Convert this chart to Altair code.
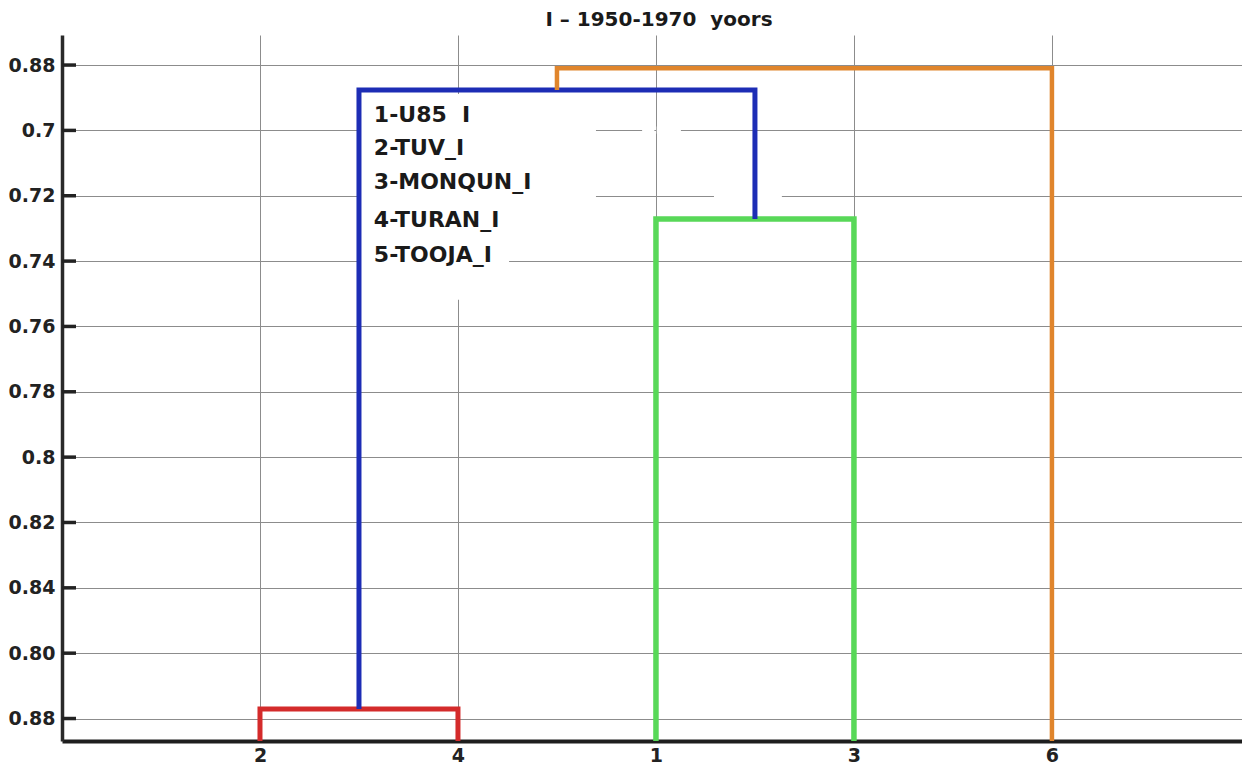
import json
import altair as alt
import pandas as pd

# ---------------- data ----------------
title_text = "I – 1950-1970 \u00a0yoors"

leaf_labels = ["2", "4", "1", "3", "6"]          # leaf order on the x axis
leaf_pos = [1, 2, 3, 4, 5]

y_tick_pos = list(range(11))                     # bottom -> top
y_tick_labels = ["0.88", "0.80", "0.84", "0.82", "0.8", "0.78",
                 "0.76", "0.74", "0.72", "0.7", "0.88"]

leaf_height = -0.344                             # leaves sit on the baseline

# dendrogram links (in y-grid units)
link_id = ["red", "green", "blue", "orange"]
link_left = [1, 3, 1.5, 2.5]
link_right = [2, 4, 3.5, 5]
link_height = [0.145, 7.645, 9.62, 9.95]
link_left_child = [leaf_height, leaf_height, 0.145, 9.62]
link_right_child = [leaf_height, leaf_height, 7.645, leaf_height]
link_color = ["#d42b2b", "#58d858", "#1d2db5", "#e0852c"]
link_width = [5, 5.5, 5, 4.5]

legend_lines = ["1-U85 \u00a0I", "2-TUV_I", "3-MONQUN_I", "4-TURAN_I", "5-TOOJA_I"]
legend_y = [9.235, 8.73, 8.21, 7.63, 7.09]
legend_x = 1.575

# white patches behind the legend text (x1, x2, y1, y2)
patch_x1 = [1.51, 1.51, 2.93, 3.004, 3.293]
patch_x2 = [2.697, 2.258, 2.992, 3.126, 3.636]
patch_y1 = [9.557, 7.32, 9.06, 9.06, 8.05]
patch_y2 = [7.248, 6.41, 8.95, 8.95, 7.94]

x_domain = [0, 5.96]
y_domain = [-0.344, 10.46]

# ---------------- tables ----------------
rows = []
for i, lid in enumerate(link_id):
    pts = [(link_left[i], link_left_child[i]),
           (link_left[i], link_height[i]),
           (link_right[i], link_height[i]),
           (link_right[i], link_right_child[i])]
    for k, (xx, yy) in enumerate(pts):
        rows.append({"link": lid, "order": k, "x": xx, "y": yy,
                     "color": link_color[i], "w": link_width[i]})
links_df = pd.DataFrame(rows)

patch_df = pd.DataFrame({"x1": patch_x1, "x2": patch_x2,
                         "y1": patch_y1, "y2": patch_y2})
legend_df = pd.DataFrame({"text": legend_lines, "y": legend_y,
                          "x": [legend_x] * len(legend_lines)})
ytick_df = pd.DataFrame({"y": y_tick_pos})

FONT = "DejaVu Sans"
xscale = alt.Scale(domain=x_domain, nice=False, zero=False)
yscale = alt.Scale(domain=y_domain, nice=False, zero=False)

x_axis = alt.Axis(values=leaf_pos, title=None, grid=True, ticks=False,
                  domainColor="#1e1e1e", domainWidth=4,
                  labelExpr=json.dumps(leaf_labels) + "[datum.value - 1]",
                  labelFont=FONT, labelFontWeight="bold", labelFontSize=19,
                  labelColor="#222222", labelPadding=5)
y_axis = alt.Axis(values=y_tick_pos, title=None, grid=True, ticks=False,
                  domainColor="#2a2a2a", domainWidth=3.5,
                  labelExpr=json.dumps(y_tick_labels) + "[datum.value]",
                  labelFont=FONT, labelFontWeight="bold", labelFontSize=19,
                  labelColor="#222222", labelPadding=7)


def X(field):
    return alt.X(field, type="quantitative", scale=xscale, axis=x_axis)


def Y(field):
    return alt.Y(field, type="quantitative", scale=yscale, axis=y_axis)


base_axes = alt.Chart(ytick_df).mark_point(opacity=0).encode(
    x=X("y"), y=Y("y"),
)

patches = alt.Chart(patch_df).mark_rect(color="white").encode(
    x=X("x1"), x2="x2:Q", y=Y("y1"), y2="y2:Q",
)

ticks = alt.Chart(ytick_df).mark_rule(color="#222222", strokeWidth=3.5).encode(
    x=alt.value(0), x2=alt.value(14), y=Y("y"),
)

legend_text = alt.Chart(legend_df).mark_text(
    align="left", baseline="middle", font=FONT, fontWeight="bold",
    fontSize=22, color="#1a1a1a"
).encode(
    x=X("x"), y=Y("y"), text="text:N",
)

dendro = alt.Chart(links_df).mark_line(strokeJoin="miter", strokeCap="butt").encode(
    x=X("x"), y=Y("y"),
    detail="link:N",
    order="order:Q",
    color=alt.Color("color:N", scale=None),
    strokeWidth=alt.StrokeWidth("w:Q", scale=None),
)

chart = alt.layer(base_axes, patches, ticks, legend_text, dendro).properties(
    width=1180, height=706,
    background="white",
    autosize=alt.AutoSizeParams(type="none"),
    padding={"left": 54, "top": 27, "right": 0, "bottom": 24},
    title=alt.TitleParams(title_text, font=FONT, fontWeight="bold",
                          fontSize=20, color="#1a1a1a", anchor="middle",
                          offset=5, dx=7),
).configure_view(stroke=None).configure_axis(
    gridColor="#8c8c8c", gridWidth=1, gridOpacity=1
)

chart.save("out.html", embed_options={"renderer": "svg", "actions": False})
